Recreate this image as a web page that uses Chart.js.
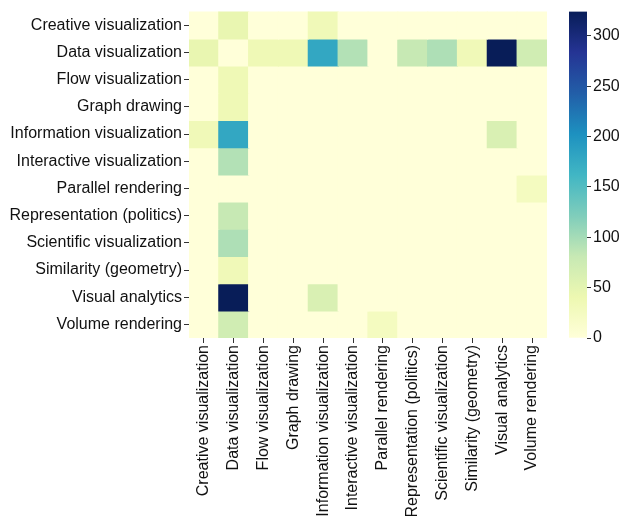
<!DOCTYPE html>
<html><head><meta charset="utf-8">
<script src="https://cdn.jsdelivr.net/npm/chart.js@4/dist/chart.umd.min.js"></script>
<style>
html,body{margin:0;padding:0;background:#fff;width:619px;height:516px;overflow:hidden}
#main{position:absolute;left:0;top:0}
#cb{position:absolute;left:555px;top:0}
</style></head><body>
<canvas id="main" width="560" height="516" style="width:560px;height:516px"></canvas>
<canvas id="cb" width="64" height="516" style="width:64px;height:516px"></canvas>
<script>
const categories = ["Creative visualization","Data visualization","Flow visualization","Graph drawing","Information visualization","Interactive visualization","Parallel rendering","Representation (politics)","Scientific visualization","Similarity (geometry)","Visual analytics","Volume rendering"];
const rowCreative       = [0, 45, 0, 0, 33, 0, 0, 0, 0, 0, 0, 0];
const rowData           = [45, 0, 35, 35, 178, 92, 0, 81, 95, 33, 324, 71];
const rowFlow           = [0, 35, 0, 0, 0, 0, 0, 0, 0, 0, 0, 0];
const rowGraph          = [0, 35, 0, 0, 0, 0, 0, 0, 0, 0, 0, 0];
const rowInformation    = [33, 178, 0, 0, 0, 0, 0, 0, 0, 0, 62, 0];
const rowInteractive    = [0, 92, 0, 0, 0, 0, 0, 0, 0, 0, 0, 0];
const rowParallel       = [0, 0, 0, 0, 0, 0, 0, 0, 0, 0, 0, 25];
const rowRepresentation = [0, 81, 0, 0, 0, 0, 0, 0, 0, 0, 0, 0];
const rowScientific     = [0, 95, 0, 0, 0, 0, 0, 0, 0, 0, 0, 0];
const rowSimilarity     = [0, 33, 0, 0, 0, 0, 0, 0, 0, 0, 0, 0];
const rowVisual         = [0, 324, 0, 0, 62, 0, 0, 0, 0, 0, 0, 0];
const rowVolume         = [0, 71, 0, 0, 0, 0, 25, 0, 0, 0, 0, 0];
const matrix = [rowCreative,rowData,rowFlow,rowGraph,rowInformation,rowInteractive,rowParallel,rowRepresentation,rowScientific,rowSimilarity,rowVisual,rowVolume];
const colorbarTicks = [0,50,100,150,200,250,300];

const stops = ["#ffffd9","#edf8b1","#c7e9b4","#7fcdbb","#41b6c4","#1d91c0","#225ea8","#253494","#081d58"];
const vmax = Math.max(...matrix.flat());
function hex(c){return [parseInt(c.slice(1,3),16),parseInt(c.slice(3,5),16),parseInt(c.slice(5,7),16)];}
function cmap(v){
  let t = Math.max(0,Math.min(1,v/vmax))*(stops.length-1);
  let i = Math.min(Math.floor(t), stops.length-2), f = t-i;
  const a = hex(stops[i]), b = hex(stops[i+1]);
  return 'rgb('+a.map((x,k)=>Math.round(x+(b[k]-x)*f)).join(',')+')';
}
const FONT = {family:"'Liberation Sans', Arial, sans-serif", size:16};
const TXT = '#111';

new Chart(document.getElementById('main'), {
  type:'bar',
  data:{
    labels:categories,
    datasets: matrix.map((row,r)=>({
      label:categories[r],
      data: row.map(()=>1),
      backgroundColor: row.map(v=>cmap(v)),
      borderWidth:0,
      barPercentage:1, categoryPercentage:1,
      inflateAmount:0.6
    }))
  },
  options:{
    responsive:false, animation:false, events:[],
    layout:{padding:{top:11,right:13,left:0,bottom:0}},
    plugins:{legend:{display:false},tooltip:{enabled:false}},
    scales:{
      x:{stacked:true, offset:true,
         grid:{display:true,drawOnChartArea:false,drawTicks:true,tickLength:5,color:'#333',offset:false},
         border:{display:false},
         ticks:{font:FONT,color:TXT,minRotation:90,maxRotation:90,padding:2,autoSkip:false},
         afterFit:s=>{s.height=178;}},
      y:{stacked:true, min:0, max:categories.length, reverse:true,
         afterBuildTicks:s=>{s.ticks=categories.map((_,i)=>({value:i+0.5}));},
         grid:{display:true,drawOnChartArea:false,drawTicks:true,tickLength:5,color:'#333'},
         border:{display:false},
         ticks:{font:FONT,color:TXT,padding:2,autoSkip:false,callback:(v,i)=>categories[i]},
         afterFit:s=>{s.width=189;}}
    }
  }
});

new Chart(document.getElementById('cb'), {
  type:'bar',
  data:{labels:[''], datasets:[{data:[[0,vmax]], borderWidth:0, barPercentage:1, categoryPercentage:1,
    backgroundColor:(ctx)=>{
      const ca = ctx.chart.chartArea; if(!ca) return stops[0];
      const g = ctx.chart.ctx.createLinearGradient(0,ca.bottom,0,ca.top);
      stops.forEach((c,i)=>g.addColorStop(i/(stops.length-1),c));
      return g;
    }}]},
  options:{
    responsive:false, animation:false, events:[],
    layout:{padding:{top:10,left:14,right:0,bottom:178}},
    plugins:{legend:{display:false},tooltip:{enabled:false}},
    scales:{
      x:{display:false},
      y:{position:'right', min:0, max:vmax,
         afterBuildTicks:s=>{s.ticks=colorbarTicks.map(v=>({value:v}));},
         grid:{display:true,drawOnChartArea:false,drawTicks:true,tickLength:4,color:'#333'},
         border:{display:false},
         ticks:{font:FONT,color:TXT,padding:2},
         afterFit:s=>{s.width=32;}}
    }
  }
});
</script>
</body></html>
